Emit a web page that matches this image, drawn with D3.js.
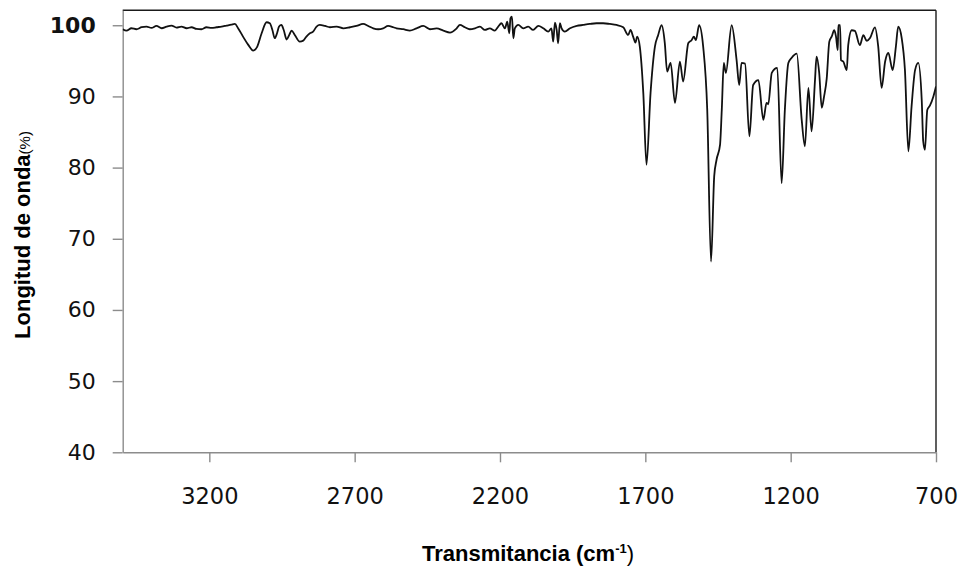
<!DOCTYPE html>
<html>
<head>
<meta charset="utf-8">
<script src="https://cdn.jsdelivr.net/npm/d3@7"></script>
<style>
  body { margin: 0; background: #fff; }
  svg { display: block; }
</style>
</head>
<body>
<svg width="964" height="573"></svg>
<script>
// IR spectrum (cm-1 descending, %)
const wavenumber = [
  3498, 3485, 3468, 3451, 3433, 3416, 3399, 3382, 3364, 3347, 3330, 3313, 3296, 3278, 3261, 3244,
  3227, 3210, 3192, 3175, 3158, 3141, 3124, 3112, 3101, 3084, 3066, 3049, 3035, 3020, 3003, 2992,
  2983, 2975, 2967, 2960, 2952, 2944, 2934, 2925, 2917, 2906, 2889, 2877, 2866, 2854, 2843, 2831,
  2820, 2802, 2785, 2762, 2739, 2716, 2694, 2671, 2653, 2636, 2619, 2602, 2585, 2567, 2556, 2533,
  2510, 2487, 2464, 2441, 2418, 2395, 2372, 2349, 2338, 2321, 2304, 2286, 2269, 2252, 2235, 2218,
  2206, 2195, 2183, 2175, 2168, 2164, 2159, 2154, 2149, 2137, 2120, 2103, 2086, 2068, 2051, 2034,
  2023, 2017, 2011, 2005, 2000, 1994, 1988, 1977, 1959, 1936, 1914, 1891, 1868, 1845, 1822, 1799,
  1776, 1759, 1751, 1742, 1734, 1728, 1719, 1707, 1696, 1682, 1667, 1656, 1644, 1633, 1625, 1613,
  1598, 1581, 1570, 1552, 1541, 1533, 1526, 1515, 1501, 1487, 1474, 1463, 1455, 1443, 1437, 1430,
  1423, 1403, 1386, 1377, 1369, 1357, 1342, 1329, 1311, 1294, 1283, 1277, 1265, 1246, 1231, 1220,
  1208, 1197, 1179, 1162, 1151, 1139, 1128, 1116, 1111, 1102, 1093, 1085, 1076, 1067, 1059, 1050,
  1044, 1038, 1036, 1030, 1027, 1019, 1007, 1002, 990, 979, 962, 950, 938, 927, 910, 899,
  887, 875, 864, 849, 838, 830, 818, 807, 795, 784, 772, 761, 749, 744, 738, 730,
  721, 709, 700
];
const transmittance = [
  99.44, 99.24, 99.58, 99.44, 99.72, 99.81, 99.62, 99.90, 99.58, 99.81, 99.95, 99.67, 99.81, 99.58, 99.72, 99.48,
  99.44, 99.72, 99.62, 99.72, 99.81, 99.95, 100.09, 100.18, 99.58, 98.40, 97.24, 96.44, 97.00, 98.88, 100.42, 100.28,
  99.34, 98.18, 98.88, 99.81, 100.04, 99.34, 98.00, 98.64, 99.25, 98.64, 97.70, 97.84, 98.41, 98.88, 99.11, 99.81,
  100.04, 99.90, 99.72, 99.81, 99.57, 99.72, 99.90, 100.18, 99.90, 99.57, 99.44, 99.57, 99.90, 99.72, 99.57, 99.44,
  99.25, 99.57, 99.90, 99.44, 99.57, 99.25, 98.97, 99.57, 100.04, 99.72, 99.44, 99.57, 99.81, 99.34, 99.57, 99.25,
  99.81, 100.28, 99.57, 100.51, 98.87, 100.98, 101.21, 98.17, 99.57, 100.04, 99.57, 99.81, 99.34, 99.90, 99.57, 99.11,
  99.57, 97.70, 100.37, 99.34, 97.47, 100.28, 99.57, 99.11, 99.57, 99.90, 100.04, 100.18, 100.28, 100.28, 100.18, 100.04,
  99.72, 98.64, 99.34, 98.41, 97.56, 98.40, 97.00, 90.50, 80.40, 90.50, 97.00, 98.60, 100.00, 97.50, 93.50, 94.70,
  89.10, 94.90, 92.10, 97.50, 97.90, 98.40, 97.90, 100.00, 97.00, 88.10, 66.80, 78.80, 81.10, 83.20, 88.10, 94.70,
  93.30, 100.00, 95.10, 91.60, 94.70, 94.60, 84.40, 91.60, 92.30, 86.70, 89.10, 88.90, 93.30, 94.00, 77.80, 88.10,
  94.70, 95.40, 96.00, 86.70, 83.00, 91.20, 85.10, 92.50, 95.60, 93.40, 88.40, 90.00, 92.50, 97.70, 98.40, 99.30,
  98.40, 96.50, 100.00, 100.00, 95.10, 94.90, 93.70, 97.20, 99.30, 99.20, 97.20, 98.60, 97.80, 98.20, 99.70, 97.10,
  91.20, 94.90, 96.10, 93.70, 97.00, 99.80, 98.20, 93.80, 82.30, 88.60, 93.70, 94.70, 89.40, 83.70, 82.50, 88.10,
  88.70, 90.00, 91.40
];
const xTicks = [3200, 2700, 2200, 1700, 1200, 700];
const yTicks = [40, 50, 60, 70, 80, 90, 100];

const svg = d3.select('svg');
const plotLeft = 122.7, plotRight = 936, plotTop = 10.3, plotBottom = 452.3;

const x = d3.scaleLinear().domain([3498, 700]).range([plotLeft, plotRight]);
const y = d3.scaleLinear().domain([40, 102.1]).range([plotBottom, plotTop]);

const points = wavenumber.map((w, i) => ({ w, t: transmittance[i] }));

svg.append('clipPath').attr('id', 'plot')
  .append('rect')
    .attr('x', plotLeft).attr('y', plotTop - 2)
    .attr('width', plotRight - plotLeft).attr('height', plotBottom - plotTop + 2);

// frame: top/right dark, left/bottom grey
svg.append('line')
  .attr('x1', plotLeft).attr('x2', plotRight).attr('y1', plotTop).attr('y2', plotTop)
  .attr('stroke', '#1a1a1a').attr('stroke-width', 1.4);
svg.append('line')
  .attr('x1', plotRight).attr('x2', plotRight).attr('y1', plotTop).attr('y2', plotBottom)
  .attr('stroke', '#1a1a1a').attr('stroke-width', 1.4);

const yAxis = svg.append('g')
  .attr('transform', `translate(${plotLeft},0)`)
  .call(d3.axisLeft(y).tickValues(yTicks).tickSize(10).tickPadding(17).tickSizeOuter(0));
const xAxis = svg.append('g')
  .attr('transform', `translate(0,${plotBottom})`)
  .call(d3.axisBottom(x).tickValues(xTicks).tickFormat(d3.format('d'))
    .tickSize(10).tickPadding(26).tickSizeOuter(0));

[xAxis, yAxis].forEach(g => {
  g.select('.domain').attr('stroke', '#8c8c8c').attr('stroke-width', 1.4);
  g.selectAll('.tick line').attr('stroke', '#8c8c8c').attr('stroke-width', 1.4);
  g.selectAll('.tick text')
    .attr('fill', '#111')
    .style('font-family', '"DejaVu Sans", sans-serif');
});
yAxis.selectAll('.tick text').style('font-size', '22px');
yAxis.selectAll('.tick text').filter(d => d === 100).style('font-weight', 'bold');
xAxis.selectAll('.tick text').style('font-size', '22.5px');

svg.append('path')
  .datum(points)
  .attr('clip-path', 'url(#plot)')
  .attr('fill', 'none')
  .attr('stroke', '#111')
  .attr('stroke-width', 1.8)
  .attr('stroke-linejoin', 'round')
  .attr('d', d3.line().x(d => x(d.w)).y(d => y(d.t)).curve(d3.curveMonotoneX));

// axis titles
const xTitle = svg.append('text')
  .attr('x', 528).attr('y', 561)
  .attr('text-anchor', 'middle')
  .style('font-family', '"Liberation Sans", Arial, sans-serif')
  .style('font-weight', 'bold')
  .style('font-size', '22px')
  .attr('fill', '#000');
xTitle.append('tspan').text('Transmitancia (cm');
xTitle.append('tspan').text('-1').style('font-size', '13px').attr('dy', -8);
xTitle.append('tspan').text(')').attr('dy', 8).style('font-weight', 'normal');

const yTitle = svg.append('text')
  .attr('transform', 'translate(30,235) rotate(-90)')
  .attr('text-anchor', 'middle')
  .style('font-family', '"Liberation Sans", Arial, sans-serif')
  .style('font-weight', 'bold')
  .style('font-size', '22px')
  .attr('fill', '#000');
yTitle.append('tspan').text('Longitud de onda');
yTitle.append('tspan').text('(%)').style('font-size', '15px').style('font-weight', 'normal');
</script>
</body>
</html>
